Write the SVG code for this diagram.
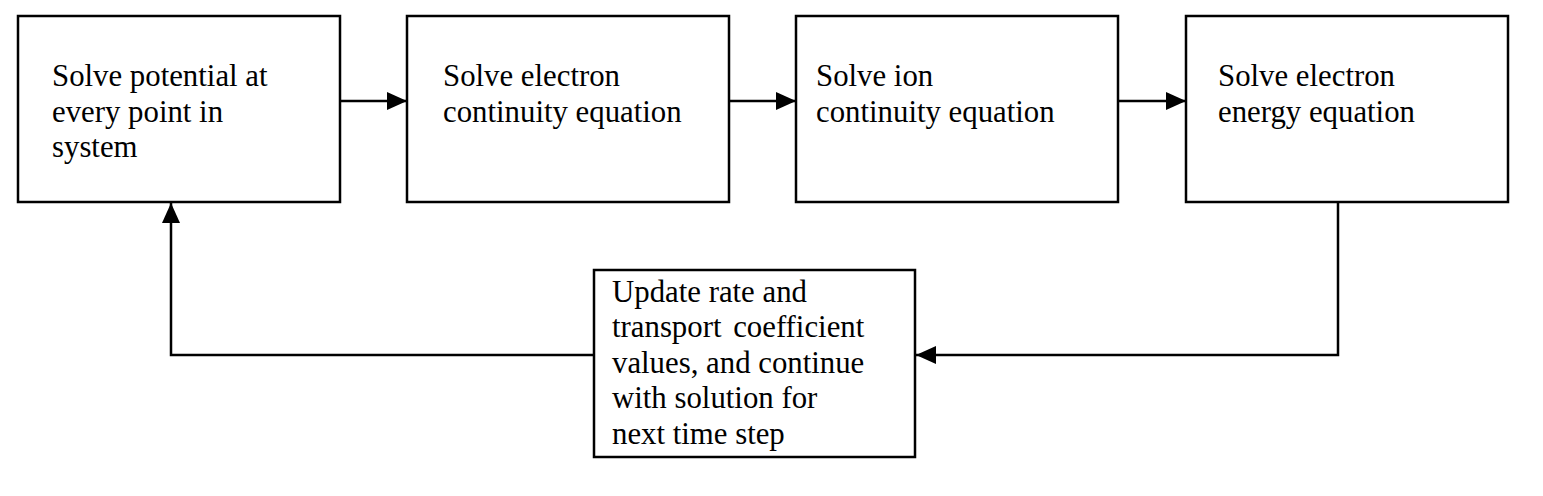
<svg xmlns="http://www.w3.org/2000/svg" width="1543" height="496" viewBox="0 0 1543 496">
<defs>
<style>
.box{fill:#fff;stroke:#000;stroke-width:2.5}
.t{font-family:"Liberation Serif","Times New Roman",serif;font-size:30.8px;fill:#000}
.c{fill:none;stroke:#000;stroke-width:2.5}
</style>
<marker id="ah" viewBox="0 0 20 18" refX="20" refY="9" markerWidth="20" markerHeight="18" markerUnits="userSpaceOnUse" orient="auto">
<path d="M0,0 L20,9 L0,18 Z" fill="#000"/>
</marker>
</defs>
<rect width="1543" height="496" fill="#fff"/>
<g id="connectors">
<line class="c" x1="340" y1="101" x2="407" y2="101" marker-end="url(#ah)"/>
<line class="c" x1="729" y1="101" x2="796" y2="101" marker-end="url(#ah)"/>
<line class="c" x1="1118" y1="101" x2="1186" y2="101" marker-end="url(#ah)"/>
<polyline class="c" points="1338,202 1338,355 916,355" marker-end="url(#ah)"/>
<polyline class="c" points="594,355 171,355 171,203" marker-end="url(#ah)"/>
</g>
<g id="n1">
<rect class="box" x="18" y="16" width="322" height="186"/>
<text class="t" x="52" y="86">Solve potential at</text>
<text class="t" x="52" y="121.5">every point in</text>
<text class="t" x="52" y="157">system</text>
</g>
<g id="n2">
<rect class="box" x="407" y="16" width="322" height="186"/>
<text class="t" x="443" y="86">Solve electron</text>
<text class="t" x="443" y="121.5">continuity equation</text>
</g>
<g id="n3">
<rect class="box" x="796" y="16" width="322" height="186"/>
<text class="t" x="816" y="86">Solve ion</text>
<text class="t" x="816" y="121.5">continuity equation</text>
</g>
<g id="n4">
<rect class="box" x="1186" y="16" width="322" height="186"/>
<text class="t" x="1218" y="86">Solve electron</text>
<text class="t" x="1218" y="121.5">energy equation</text>
</g>
<g id="n5">
<rect class="box" x="594" y="270" width="321" height="187"/>
<text class="t" x="612" y="301.5">Update rate and</text>
<text class="t" x="612" y="337" word-spacing="4">transport coefficient</text>
<text class="t" x="612" y="372.5">values, and continue</text>
<text class="t" x="612" y="408">with solution for</text>
<text class="t" x="612" y="443.5">next time step</text>
</g>
</svg>
